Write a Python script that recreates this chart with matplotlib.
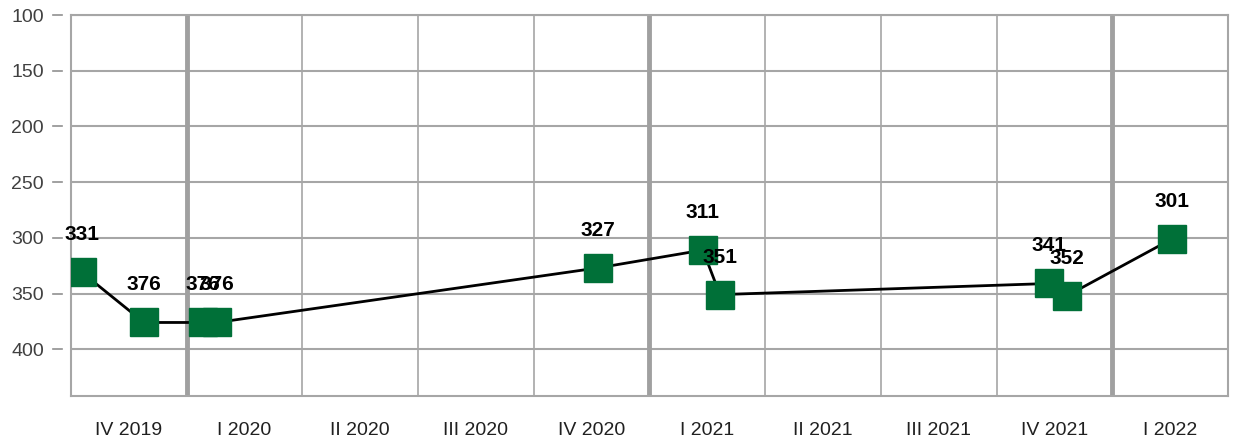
import numpy as np
import matplotlib
matplotlib.use('Agg')
import matplotlib.pyplot as plt
import matplotlib.transforms as mtransforms

plt.rcParams['font.family'] = ['Liberation Sans', 'DejaVu Sans']

# quarter categories on the x axis
quarters = ['IV 2019', 'I 2020', 'II 2020', 'III 2020', 'IV 2020',
            'I 2021', 'II 2021', 'III 2021', 'IV 2021', 'I 2022']
# position of each observation measured in quarters (0 = centre of IV 2019)
obs_pos = [-0.405, 0.131, 0.641, 0.762, 4.055, 4.962, 5.109, 7.953, 8.109, 9.016]
obs_val = [331, 376, 376, 376, 327, 311, 351, 341, 352, 301]
year_breaks = [0.5, 4.5, 8.5]
yticks = [100, 150, 200, 250, 300, 350, 400]

green = '#007038'
grid_c = '#a6a6a6'

fig = plt.figure(figsize=(12.34, 4.43), dpi=100)
ax = fig.add_axes([0.0575, 0.1061, 0.9376, 0.86])

ax.set_xlim(-0.5, len(quarters) - 0.5)
ax.set_ylim(442, 100)

# grid
for y in yticks:
    ax.axhline(y, color=grid_c, lw=1.5, zorder=1)
for b in np.arange(0.5, len(quarters) - 0.5):
    if b in year_breaks:
        ax.axvline(b, color='#a0a0a0', lw=3.5, zorder=1)
    else:
        ax.axvline(b, color=grid_c, lw=1.2, zorder=1)

for s in ax.spines.values():
    s.set_color(grid_c)
    s.set_linewidth(1.5)

# series
ax.plot(obs_pos, obs_val, color='black', lw=2, zorder=3)
ax.plot(obs_pos, obs_val, ls='none', marker='s', ms=19.5,
        color=green, zorder=4)

for x, v in zip(obs_pos, obs_val):
    ax.annotate(str(v), (x, v), xytext=(0, 27), textcoords='offset points',
                ha='center', va='center', fontsize=15, fontweight='bold',
                color='black', zorder=5)

ax.set_yticks(yticks)
ax.set_xticks(range(len(quarters)))
ax.set_xticklabels(quarters)
ax.tick_params(axis='y', length=0, pad=19.5, labelsize=14, labelcolor='#404040')
ax.tick_params(axis='x', length=0, pad=18.5, labelsize=14, labelcolor='#202020')

# small detached tick marks left of the axis
trans = mtransforms.blended_transform_factory(ax.transAxes, ax.transData)
for y in yticks:
    ax.plot([-0.0155, -0.0078], [y, y], color='#909090', lw=1.2,
            transform=trans, clip_on=False)

fig.savefig('out.png', dpi=100)
